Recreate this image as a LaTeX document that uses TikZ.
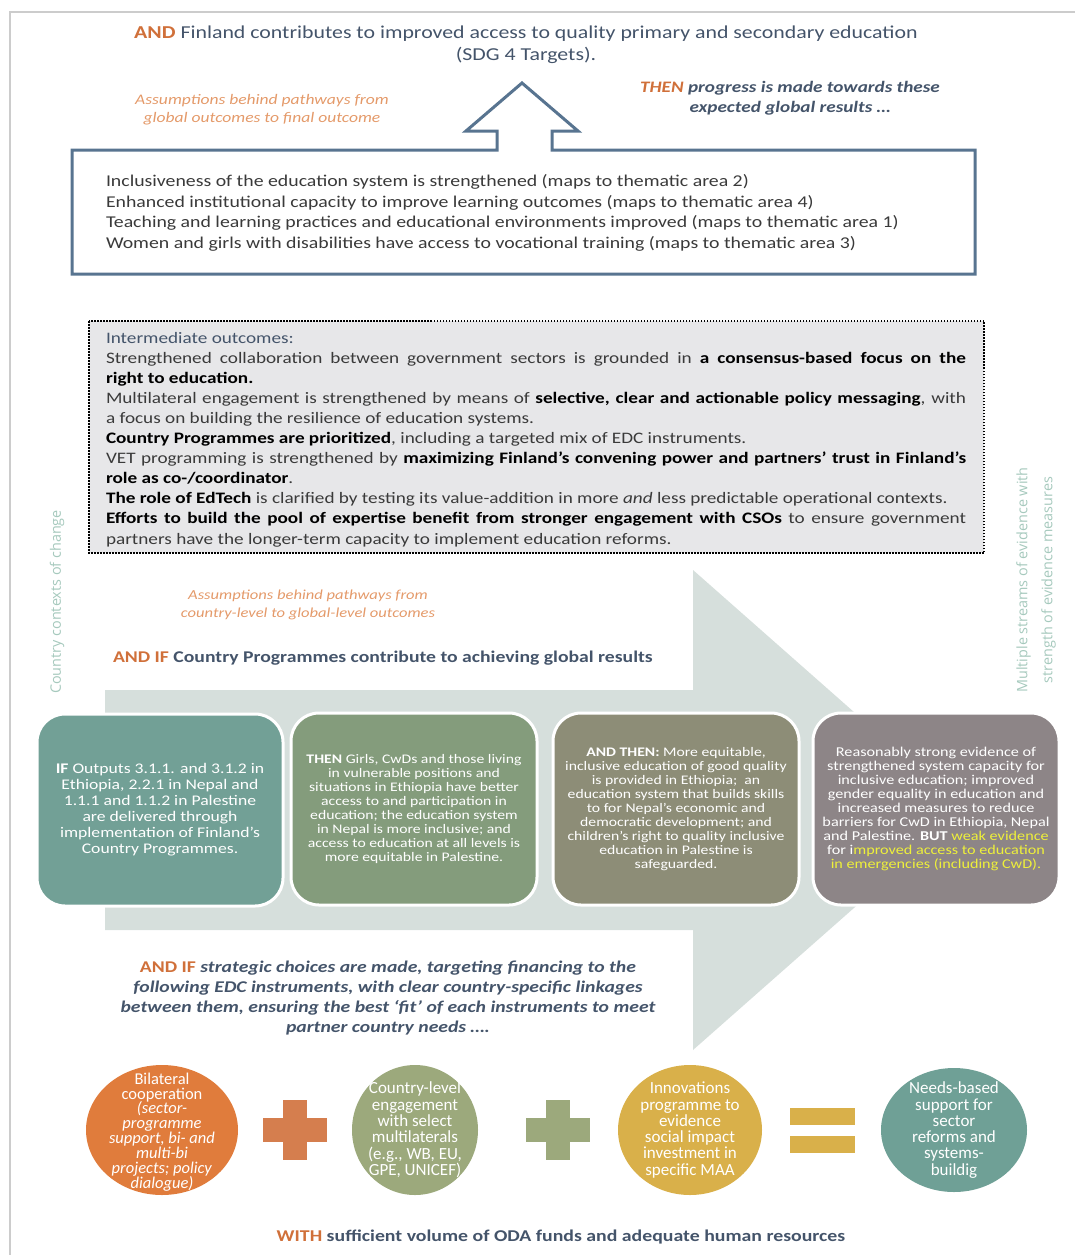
\documentclass[tikz,border=0pt]{standalone}
\usepackage{fontspec}
\setmainfont{Carlito}[FakeStretch=1.2]
\newfontfamily\circfont{Carlito}
\newfontfamily\sidefont{Open Sans}

\definecolor{slate}{HTML}{44546A}
\definecolor{andorange}{HTML}{D0703A}
\definecolor{lightorange}{HTML}{E49A6A}
\definecolor{boxline}{HTML}{587490}
\definecolor{bodygray}{HTML}{3A3A3A}
\definecolor{midgray}{HTML}{E7E7E9}
\definecolor{arrowgray}{HTML}{D6DFDC}
\definecolor{sidegreen}{HTML}{A6C9BD}
\definecolor{tealbox}{HTML}{72A096}
\definecolor{greenbox}{HTML}{849C7C}
\definecolor{olivebox}{HTML}{8D8D77}
\definecolor{mauvebox}{HTML}{8D8587}
\definecolor{orangecirc}{HTML}{E07C3C}
\definecolor{greencirc}{HTML}{9CA97C}
\definecolor{goldcirc}{HTML}{D9B04A}
\definecolor{tealcirc}{HTML}{6FA096}
\definecolor{yellowtext}{HTML}{EEF03A}
\definecolor{framegray}{HTML}{CCCCCC}
\setlength{\parindent}{0pt}

\begin{document}
\begin{tikzpicture}[x=1pt, y=-1pt,
    every node/.style={inner sep=0pt, outer sep=0pt},
    progbox/.style={draw=white, line width=3pt, rounded corners=28pt,
        minimum width=246pt, minimum height=192pt, text=white, align=center},
    instrument/.style={text=white, align=center,
        font=\circfont\fontsize{17}{16.3}\selectfont},
    sidetext/.style={text=sidegreen, rotate=90, align=center,
        font=\sidefont\fontsize{14.4}{25}\selectfont}]

    \useasboundingbox (0,0) rectangle (1075,1255);

    %Page frame
    \draw[framegray, line width=1.5pt] (10,1255) -- (10,12) -- (1075,12);

    %Final outcome
    \node[anchor=base, align=center, text=slate, font=\fontsize{18.2}{22}\selectfont] (finalout) at (526,61)
        {{\color{andorange}\textbf{AND}} Finland contributes to improved access to quality primary and secondary education\\(SDG 4 Targets).};
    \node[anchor=base, align=center, text=lightorange, font=\itshape\fontsize{14.6}{18}\selectfont] (assumeglobal) at (262,122)
        {Assumptions behind pathways from\\global outcomes to final outcome};
    \node[anchor=base, align=center, text=slate, font=\bfseries\itshape\fontsize{16}{20}\selectfont] (thenglobal) at (790,112)
        {{\color{andorange}THEN} progress is made towards these\\expected global results \dots};

    %Global results box with up arrow
    \draw[boxline, line width=3pt, fill=white] (72,150) -- (497,150) -- (497,131) -- (466,131) -- (522,83)
        -- (578,131) -- (552,131) -- (552,150) -- (975,150) -- (975,274) -- (72,274) -- cycle;
    \node[anchor=base west, align=left, text=bodygray, font=\fontsize{16.5}{20.4}\selectfont] (globalres) at (106,248)
        {Inclusiveness of the education system is strengthened (maps to thematic area 2)\\
         Enhanced institutional capacity to improve learning outcomes (maps to thematic area 4)\\
         Teaching and learning practices and educational environments improved (maps to thematic area 1)\\
         Women and girls with disabilities have access to vocational training (maps to thematic area 3)};

    %Intermediate outcomes
    \fill[midgray] (89,321) rectangle (984,553);
    \begin{scope}
        \clip (89,321) rectangle (984,553);
        \node[anchor=base west, text width=860pt, align=justify, text=bodygray, font=\fontsize{16}{20.1}\selectfont] (interout) at (106,343)
            {{\color{slate}Intermediate outcomes:}\par
             Strengthened collaboration between government sectors is grounded in \textbf{\color{black}a consensus-based focus on the}\linebreak
             \textbf{\color{black}right to education.}\par
             Multilateral engagement is strengthened by means of \textbf{\color{black}selective, clear and actionable policy messaging}, with\linebreak
             a focus on building the resilience of education systems.\par
             \textbf{\color{black}Country Programmes are prioritized}, including a targeted mix of EDC instruments.\par
             VET programming is strengthened by \textbf{\color{black}maximizing Finland’s convening power and partners’ trust in Finland’s}\linebreak
             \textbf{\color{black}role as co-/coordinator}.\par
             \textbf{\color{black}The role of EdTech} is clarified by testing its value-addition in more \textit{and} less predictable operational contexts.\par
             \textbf{\color{black}Efforts to build the pool of expertise benefit from stronger engagement with CSOs} to ensure government\linebreak
             partners have the longer-term capacity to implement education reforms.};
    \end{scope}
    \draw[line width=1.5pt, dash pattern=on 1.5pt off 1.5pt] (89,321) rectangle (984,553);

    %Big background arrow
    \fill[arrowgray] (105,690) -- (693,690) -- (693,570) -- (965,810) -- (693,1050) -- (693,930) -- (105,930) -- cycle;

    %Side labels
    \node[sidetext] (contexts) at (57,602) {Country contexts of change};
    \node[sidetext] (streams) at (1036,580) {Multiple streams of evidence with\\strength of evidence measures};

    \node[anchor=base, align=center, text=lightorange, font=\itshape\fontsize{13.8}{18}\selectfont] (assumecountry) at (308,617)
        {Assumptions behind pathways from\\country-level to global-level outcomes};
    \node[anchor=base west, text=slate, font=\bfseries\fontsize{16.4}{20}\selectfont] (andifcp) at (113,662)
        {{\color{andorange}AND IF} Country Programmes contribute to achieving global results};

    %Country programme boxes
    \node[progbox, fill=tealbox, font=\fontsize{14.7}{16}\selectfont] (outputs) at (160,810)
        {\textbf{IF} Outputs 3.1.1. and 3.1.2 in\\Ethiopia, 2.2.1 in Nepal and\\1.1.1 and 1.1.2 in Palestine\\are delivered through\\implementation of Finland's\\Country Programmes.};
    \node[progbox, fill=greenbox, font=\fontsize{13.1}{14}\selectfont] (outcomes) at (414,809)
        {\textbf{THEN} Girls, CwDs and those living\\in vulnerable positions and\\situations in Ethiopia have better\\access to and participation in\\education; the education system\\in Nepal is more inclusive; and\\access to education at all levels is\\more equitable in Palestine.};
    \node[progbox, fill=olivebox, font=\fontsize{13.1}{14}\selectfont] (impacts) at (676,809)
        {\textbf{AND THEN:} More equitable,\\inclusive education of good quality\\is provided in Ethiopia;\ \ an\\education system that builds skills\\to for Nepal's economic and\\democratic development; and\\children's right to quality inclusive\\education in Palestine is\\safeguarded.};
    \node[progbox, fill=mauvebox, font=\fontsize{13.5}{14}\selectfont] (evidence) at (936,809)
        {Reasonably strong evidence of\\strengthened system capacity for\\inclusive education; improved\\gender equality in education and\\increased measures to reduce\\barriers for CwD in Ethiopia, Nepal\\and Palestine. \textbf{BUT} {\color{yellowtext}weak evidence}\\for i{\color{yellowtext}mproved access to education}\\{\color{yellowtext}in emergencies (including CwD).}};

    %Strategic choices
    \node[anchor=base, align=center, text=slate, font=\bfseries\itshape\fontsize{16.4}{20}\selectfont] (strategic) at (388,1032)
        {{\upshape\color{andorange}AND IF} strategic choices are made, targeting financing to the\\following EDC instruments, with clear country-specific linkages\\between them, ensuring the best ‘fit’ of each instruments to meet\\partner country needs \dots.};

    %EDC instruments
    \fill[orangecirc] (162,1130) ellipse (76 and 65);
    \fill[greencirc] (415,1130) ellipse (63 and 65);
    \fill[goldcirc] (690,1130) ellipse (72 and 65);
    \fill[tealcirc] (954,1130) ellipse (73 and 62);
    \node[instrument, font=\circfont\fontsize{16.5}{14.9}\selectfont] (bilateral) at (162,1132)
        {Bilateral\\cooperation\\\textit{(sector-}\\\textit{programme}\\\textit{support, bi- and}\\\textit{multi-bi}\\\textit{projects; policy}\\\textit{dialogue)}};
    \node[instrument] (multilat) at (415,1130)
        {Country-level\\engagement\\with select\\multilaterals\\(e.g., WB, EU,\\GPE, UNICEF)};
    \node[instrument] (innov) at (690,1130)
        {Innovations\\programme to\\evidence\\social impact\\investment in\\specific MAA};
    \node[instrument] (needs) at (954,1130)
        {Needs-based\\support for\\sector\\reforms and\\systems-\\buildig};

    %Plus and equals signs
    \fill[andorange!90!white] (263,1118) rectangle (327,1142);
    \fill[andorange!90!white] (283,1100) rectangle (307,1160);
    \fill[greencirc] (526,1118) rectangle (590,1142);
    \fill[greencirc] (546,1100) rectangle (570,1160);
    \fill[goldcirc] (790,1108) rectangle (855,1125);
    \fill[goldcirc] (790,1136) rectangle (855,1153);

    %Resources
    \node[anchor=base, text=slate, font=\bfseries\fontsize{16.5}{20}\selectfont] (resources) at (561,1241)
        {{\color{andorange}WITH} sufficient volume of ODA funds and adequate human resources};

\end{tikzpicture}
\end{document}
